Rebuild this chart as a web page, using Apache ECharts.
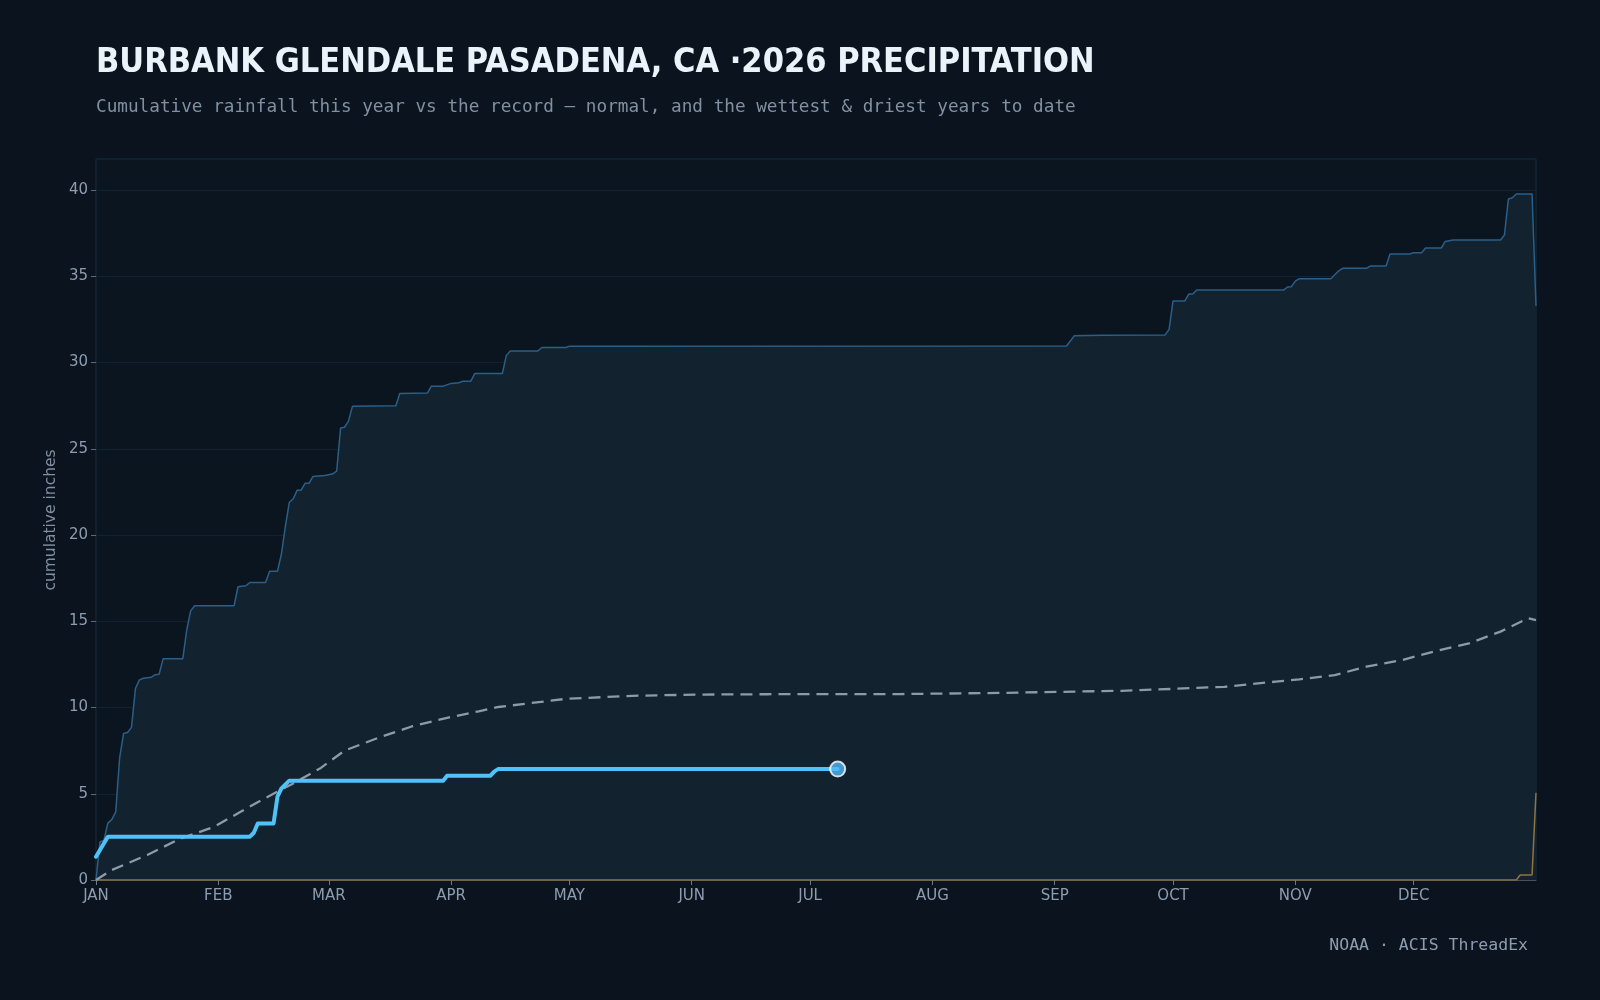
<!DOCTYPE html>
<html>
<head>
<meta charset="utf-8">
<style>
  html, body { margin:0; padding:0; background:#0b141e; }
  #chart { width:1600px; height:1000px; }
</style>
<script src="https://cdn.jsdelivr.net/npm/echarts@6/dist/echarts.min.js"></script>
</head>
<body>
<div id="chart"></div>
<script>
// ---------- data (day of year from Jan 1 = 0, cumulative inches) ----------
const monthStarts = [0, 31, 59, 90, 120, 151, 181, 212, 243, 273, 304, 334];
const monthLabels = ['JAN','FEB','MAR','APR','MAY','JUN','JUL','AUG','SEP','OCT','NOV','DEC'];
const yTicks = [0, 5, 10, 15, 20, 25, 30, 35, 40];

const wetDays = [0,1,2,3,4,5,6,7,8,9,10,11,12,14,15,16,17,22,23,24,25,35,36,38,39,43,44,46,47,48,49,50,51,52,53,54,55,58,59,60,61,62,63,64,65,70,76,77,84,85,88,90,92,93,95,96,103,104,105,112,113,119,120,246,248,255,271,272,273,276,277,278,279,301,302,303,304,305,313,315,316,322,323,327,328,333,334,336,337,341,342,344,356,357,358,359,360,364,365];
const wetVals = [0,2.2,2.3,3.3,3.5,3.95,7.1,8.5,8.55,8.85,11.1,11.6,11.7,11.75,11.9,11.93,12.82,12.82,14.5,15.6,15.9,15.9,17.0,17.06,17.25,17.25,17.9,17.9,18.9,20.5,21.9,22.1,22.6,22.6,23.0,23.0,23.4,23.45,23.5,23.55,23.7,26.2,26.25,26.6,27.46,27.48,27.5,28.2,28.23,28.63,28.63,28.79,28.83,28.92,28.92,29.36,29.36,30.4,30.67,30.67,30.87,30.87,30.94,30.96,31.56,31.58,31.6,31.92,33.57,33.57,33.97,33.97,34.2,34.2,34.38,34.4,34.72,34.86,34.86,35.32,35.46,35.46,35.59,35.59,36.29,36.29,36.37,36.37,36.64,36.64,37.02,37.1,37.1,37.39,39.48,39.55,39.77,39.77,33.28];

const normDays = [0,4,13,21,30,36,42,50,57,63,72,80,89,97,102,119,136,153,170,204,230,260,273,286,299,305,314,322,331,339,348,356,363,365];
const normVals = [0,0.58,1.45,2.36,3.09,3.87,4.64,5.6,6.5,7.5,8.28,8.9,9.4,9.78,10.03,10.5,10.68,10.75,10.77,10.78,10.85,10.97,11.08,11.2,11.5,11.63,11.88,12.37,12.75,13.24,13.72,14.4,15.17,15.07];

const curDays = [0,3,39,40,41,45,46,47,49,88,89,100,101,102,119,188];
const curVals = [1.35,2.51,2.51,2.74,3.28,3.28,4.83,5.31,5.76,5.76,6.05,6.05,6.3,6.44,6.44,6.43];

const dryDays = [0,360,361,364,365];
const dryVals = [0,0,0.29,0.29,5.06];

const zip = (xs, ys) => xs.map((x, i) => [x, ys[i]]);

// ---------- chart ----------
const chart = echarts.init(document.getElementById('chart'), null, { renderer: 'canvas' });
const labelColor = '#8d9db0';

const option = {
  backgroundColor: '#0b141e',
  animation: false,
  graphic: [
    { type: 'text', x: 96, y: 63, style: { text: 'BURBANK GLENDALE PASADENA, CA ·2026 PRECIPITATION', fill: '#eaf2fa', font: 'bold 34px "DejaVu Sans Condensed", "DejaVu Sans", sans-serif', verticalAlign: 'middle' } },
    { type: 'text', left: 96, top: 98, style: { text: 'Cumulative rainfall this year vs the record — normal, and the wettest & driest years to date', fill: '#8090a2', font: '17.7px "DejaVu Sans Mono", monospace' } },
    { type: 'text', right: 72, top: 937, style: { text: 'NOAA · ACIS ThreadEx', fill: '#8d9db0', font: '16.5px "DejaVu Sans Mono", monospace' } },
    { type: 'text', x: 51, y: 520, rotation: Math.PI / 2, style: { text: 'cumulative inches', fill: '#7f8fa2', font: '15.5px "DejaVu Sans", sans-serif', align: 'center', verticalAlign: 'middle' } }
  ],
  grid: {
    left: 96, right: 64, top: 159, bottom: 120,
    show: true, borderColor: '#1b2d3d', borderWidth: 1, backgroundColor: '#0b1520'
  },
  xAxis: {
    type: 'value', min: 0, max: 365,
    axisLine: { show: true, lineStyle: { color: '#4a5058', width: 1 } },
    axisTick: { show: true, customValues: monthStarts, length: 5, lineStyle: { color: '#6a7a8a' } },
    axisLabel: {
      customValues: monthStarts, color: labelColor, fontSize: 15, margin: 9,
      fontFamily: '"DejaVu Sans", sans-serif',
      formatter: v => monthLabels[monthStarts.indexOf(Math.round(v))] || ''
    },
    splitLine: { show: false }
  },
  yAxis: {
    type: 'value', min: 0, max: 41.8, interval: 5,
    axisLine: { show: false },
    axisTick: { show: true, customValues: yTicks, length: 5, lineStyle: { color: '#5a6a7a' } },
    axisLabel: { customValues: yTicks, color: labelColor, fontSize: 15, margin: 8, fontFamily: '"DejaVu Sans", sans-serif' },
    splitLine: { show: true, lineStyle: { color: '#132231', width: 1 } }
  },
  series: [
    {
      name: 'wettest', type: 'line', data: zip(wetDays, wetVals), showSymbol: false, z: 1,
      lineStyle: { color: '#2b5f88', width: 1.5 },
      areaStyle: { color: '#12222f', opacity: 1, origin: 'start' }
    },
    {
      name: 'driest', type: 'line', data: zip(dryDays, dryVals), showSymbol: false, z: 2,
      lineStyle: { color: '#8f7444', width: 1.5 }
    },
    {
      name: 'normal', type: 'line', data: zip(normDays, normVals), showSymbol: false, z: 3,
      lineStyle: { color: '#8b9bab', width: 2.3, type: [12, 7] }
    },
    {
      name: '2026', type: 'line', data: zip(curDays, curVals), showSymbol: false, z: 4,
      lineStyle: { color: '#4fc3f7', width: 4, join: 'round', cap: 'round' }
    },
    {
      name: 'today', type: 'scatter', z: 5,
      data: [[curDays[curDays.length - 1], curVals[curVals.length - 1]]],
      symbol: 'circle', symbolSize: 15,
      itemStyle: { color: '#4fb8f5', borderColor: '#ffffff', borderWidth: 2 }
    }
  ]
};
chart.setOption(option);
</script>
</body>
</html>
